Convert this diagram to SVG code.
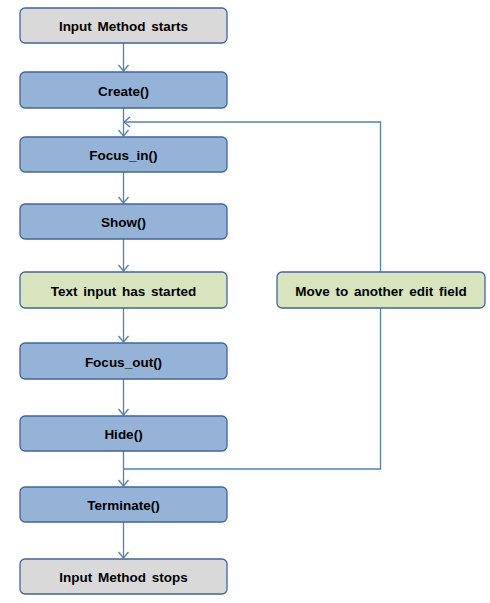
<svg xmlns="http://www.w3.org/2000/svg" width="490" height="603" viewBox="0 0 490 603">
<defs>
<style>
.box{stroke:#41669A;stroke-width:1.3;}
.gray{fill:#D9D9D9;}
.blue{fill:#95B3D7;}
.green{fill:#D7E4BD;}
.lbl{font-family:"Liberation Sans",Arial,sans-serif;font-weight:bold;font-size:13.5px;fill:#000;text-anchor:middle;word-spacing:2px;}
.conn{fill:none;stroke:#4F81BD;stroke-width:1.3;}
</style>
<marker id="arr" markerWidth="12" markerHeight="12" viewBox="0 0 12 12" refX="10" refY="6" orient="auto" markerUnits="userSpaceOnUse">
<path d="M4,1 L10,6 L4,11" fill="none" stroke="#4F81BD" stroke-width="1.3"/>
</marker>
</defs>
<rect width="490" height="603" fill="#fff"/>
<g id="connectors">
<line class="conn" x1="123.5" y1="43" x2="123.5" y2="71" marker-end="url(#arr)"/>
<line class="conn" x1="123.5" y1="108" x2="123.5" y2="136" marker-end="url(#arr)"/>
<line class="conn" x1="123.5" y1="172" x2="123.5" y2="203" marker-end="url(#arr)"/>
<line class="conn" x1="123.5" y1="239" x2="123.5" y2="271" marker-end="url(#arr)"/>
<line class="conn" x1="123.5" y1="308" x2="123.5" y2="342" marker-end="url(#arr)"/>
<line class="conn" x1="123.5" y1="379" x2="123.5" y2="415" marker-end="url(#arr)"/>
<line class="conn" x1="123.5" y1="451" x2="123.5" y2="486" marker-end="url(#arr)"/>
<line class="conn" x1="123.5" y1="522" x2="123.5" y2="558" marker-end="url(#arr)"/>
<polyline class="conn" points="123.5,469 380.5,469 380.5,308"/>
<polyline class="conn" points="380.5,272 380.5,122 124,122" marker-end="url(#arr)"/>
</g>
<g id="start"><rect class="box gray" x="20" y="8" width="207" height="35" rx="5"/><text class="lbl" x="123.5" y="31">Input Method starts</text></g>
<g id="create"><rect class="box blue" x="20" y="72" width="207" height="36" rx="5"/><text class="lbl" x="123.5" y="95.5">Create()</text></g>
<g id="focus_in"><rect class="box blue" x="20" y="137" width="207" height="35" rx="5"/><text class="lbl" x="123.5" y="160">Focus_in()</text></g>
<g id="show"><rect class="box blue" x="20" y="204" width="207" height="35" rx="5"/><text class="lbl" x="123.5" y="227">Show()</text></g>
<g id="text_input"><rect class="box green" x="20" y="272" width="207" height="36" rx="5"/><text class="lbl" x="123.5" y="295.5">Text input has started</text></g>
<g id="focus_out"><rect class="box blue" x="20" y="343" width="207" height="36" rx="5"/><text class="lbl" x="123.5" y="366.5">Focus_out()</text></g>
<g id="hide"><rect class="box blue" x="20" y="416" width="207" height="35" rx="5"/><text class="lbl" x="123.5" y="439">Hide()</text></g>
<g id="terminate"><rect class="box blue" x="20" y="487" width="207" height="35" rx="5"/><text class="lbl" x="123.5" y="510">Terminate()</text></g>
<g id="stop"><rect class="box gray" x="20" y="559" width="207" height="35" rx="5"/><text class="lbl" x="123.5" y="582">Input Method stops</text></g>
<g id="move"><rect class="box green" x="277" y="272" width="208" height="36" rx="5"/><text class="lbl" x="381" y="295.5">Move to another edit field</text></g>
</svg>
